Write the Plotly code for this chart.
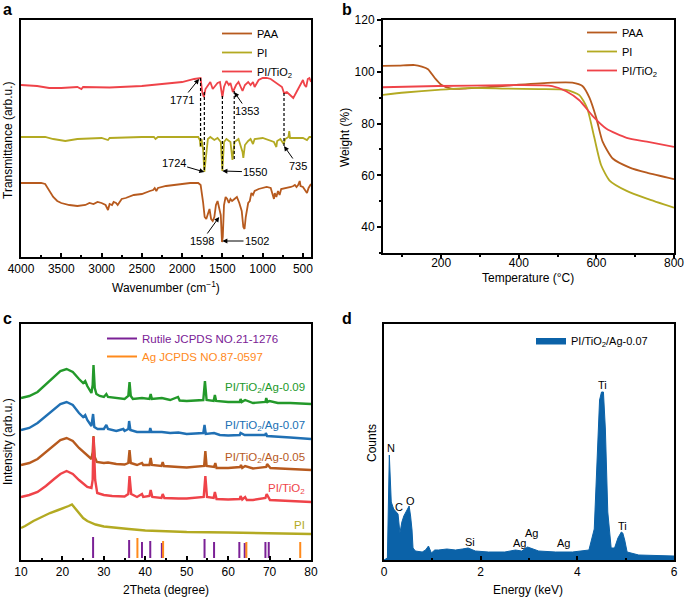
import plotly.graph_objects as go

FONT = "Liberation Sans, Arial, sans-serif"

# ---------------- Panel a: FTIR ----------------
paa_wn = [4000, 3750, 3700, 3650, 3600, 3550, 3500, 3400, 3300, 3200, 3150, 3100, 3050, 3000, 2950, 2920, 2900, 2870, 2850, 2820, 2800, 2750, 2700, 2600, 2500, 2400, 2360, 2340, 2320, 2300, 2200, 2100, 2000, 1900, 1800, 1770, 1740, 1720, 1700, 1680, 1660, 1640, 1620, 1600, 1580, 1560, 1540, 1520, 1505, 1495, 1480, 1460, 1440, 1420, 1400, 1380, 1350, 1320, 1290, 1260, 1240, 1225, 1210, 1180, 1160, 1140, 1120, 1100, 1050, 1000, 950, 900, 870, 860, 850, 830, 810, 790, 770, 700, 650, 620, 600, 580, 560, 540, 530, 500, 470, 450, 430, 400]
paa_t = [74, 74, 73, 66, 60, 56, 54, 52, 51, 52, 54, 53, 55, 54, 52, 47, 53, 52, 55, 54, 52, 58, 59, 62, 63, 66, 67, 69, 66, 69, 71, 72, 73, 74, 74, 72, 55, 40, 38, 44, 48, 38, 36, 40, 52, 56, 50, 42, 15, 20, 52, 60, 58, 54, 58, 56, 58, 60, 54, 46, 30, 28, 40, 54, 56, 64, 62, 66, 68, 69, 70, 69, 62, 58, 64, 60, 66, 62, 68, 69, 70, 71, 72, 70, 72, 76, 71, 70, 66, 64, 69, 73]

pi_wn = [4000, 3700, 3600, 3450, 3300, 3000, 2920, 2900, 2500, 2350, 2330, 2300, 2000, 1800, 1780, 1771, 1760, 1740, 1724, 1700, 1680, 1650, 1600, 1560, 1520, 1500, 1480, 1450, 1420, 1400, 1375, 1350, 1300, 1280, 1250, 1240, 1220, 1180, 1150, 1120, 1100, 1000, 900, 860, 830, 820, 780, 740, 720, 680, 670, 660, 600, 500, 450, 420, 400]
pi_t = [120, 120, 118, 116, 118, 119, 117, 119, 120, 120, 118, 120, 120, 120, 117, 110, 118, 108, 85, 105, 118, 120, 117, 119, 115, 86, 115, 118, 116, 115, 97, 115, 118, 112, 105, 99, 112, 116, 118, 113, 118, 119, 116, 115, 110, 116, 118, 113, 118, 120, 126, 119, 119, 119, 117, 120, 120]

pit_wn = [4000, 3800, 3650, 3500, 3300, 3250, 3230, 3000, 2900, 2500, 2000, 1850, 1771, 1750, 1730, 1710, 1680, 1650, 1620, 1600, 1560, 1530, 1510, 1500, 1480, 1450, 1420, 1400, 1370, 1353, 1330, 1300, 1270, 1250, 1220, 1180, 1150, 1120, 1100, 1050, 1000, 950, 900, 850, 800, 760, 735, 700, 660, 620, 580, 550, 500, 480, 460, 440, 420, 400]
pit_t = [172, 171, 169, 169, 170, 168, 170, 170, 169.5, 171, 175, 178, 179, 165, 160, 168, 172, 175, 168, 170, 174, 175, 162, 160, 170, 176, 172, 174, 165, 168, 172, 175, 170, 166, 172, 175, 172, 175, 170, 177, 179, 179, 178, 175, 172, 170, 164, 165, 162, 159, 165, 170, 177, 172, 170, 178, 179, 175]

dash_wn = [1771, 1724, 1500, 1353, 735]
dash_top = [179, 165, 161, 166, 164]
dash_bot = [109, 85, 86, 97, 111]

# annotation: label, arrow tip (wn, t), text centre (wn, t)
ftir_labels = ["1771", "1353", "1724", "1550", "735", "1598", "1502"]
ftir_tip_wn = [1790, 1353, 1724, 1500, 735, 1540, 1500]
ftir_tip_t = [178, 165, 85, 86, 111, 40, 16]
ftir_txt_wn = [2000, 1190, 2105, 1090, 560, 1754, 1070]
ftir_txt_t = [157, 146, 94, 85, 91, 16, 16]

# ---------------- Panel b: TGA ----------------
paa_T = [49, 90, 132, 150, 166, 184, 200, 226, 262, 314, 400, 486, 538, 564, 582, 600, 616, 642, 686, 730, 800]
paa_W = [102.3, 102.4, 102.6, 102.0, 101.0, 97.5, 95.0, 93.5, 93.5, 94.0, 95.0, 95.8, 95.8, 94.5, 90.0, 82.0, 73.0, 66.5, 63.0, 61.0, 58.5]
pi_T = [44, 106, 192, 278, 366, 452, 522, 556, 576, 594, 612, 634, 678, 730, 800]
pi_W = [91.0, 92.0, 93.0, 93.8, 93.5, 93.3, 93.0, 91.0, 86.0, 75.0, 64.0, 58.0, 54.0, 51.0, 47.5]
pit_T = [44, 192, 366, 486, 522, 556, 590, 626, 678, 730, 800]
pit_W = [94.0, 94.5, 94.8, 94.5, 92.5, 89.0, 83.0, 78.0, 74.5, 73.0, 71.0]

# ---------------- Panel c: XRD ----------------
g09_x = [10, 12, 14, 16, 18, 19.5, 21, 22.5, 24, 25, 25.5, 26, 27, 27.3, 27.5, 27.8, 28.2, 29, 30, 30.6, 31, 33, 35, 35.9, 36.2, 36.5, 37, 39.2, 41.0, 41.3, 41.6, 44, 46, 47.9, 48.3, 50, 54.0, 54.4, 54.8, 56.5, 56.8, 57.1, 60, 62.8, 63.0, 63.3, 64.1, 66, 69.0, 69.2, 69.5, 70, 72, 75, 78, 80]
g09_y = [162, 164, 168, 176, 184, 189, 191, 188, 181, 177, 179, 174, 167, 175, 195, 172, 166, 164, 163, 166, 163, 162, 161, 164, 178, 164, 161, 162, 161, 166, 161, 162, 160, 163, 159.5, 159, 160, 179, 160, 159, 165, 159, 158, 158, 161, 158, 160, 157, 158, 162, 158, 159, 157, 157, 156, 156]
b07_x = [10, 12, 14, 16, 18, 19.5, 21, 22.5, 24, 25, 25.5, 26, 27, 27.4, 27.7, 28.5, 30, 30.6, 31, 33, 34.7, 35, 35.9, 36.1, 36.4, 38, 41, 41.2, 41.5, 44, 46, 48, 50, 54.0, 54.3, 54.6, 56.6, 58, 60, 62.8, 63, 64, 69, 69.1, 69.4, 72, 75, 80]
b07_y = [130, 132, 137, 144, 151, 156, 158, 155, 147, 143, 145, 140, 134, 146, 133, 131, 131, 135, 131, 129, 131, 129, 131, 139, 130, 128, 128, 132, 128, 128, 127, 127.5, 126, 127, 135, 126, 127, 125, 124.5, 125, 127, 125, 125, 127, 124, 123, 122.5, 121]
o05_x = [10, 12, 14, 16, 18, 19.5, 21, 22.5, 24, 25, 26, 27, 27.3, 27.5, 27.8, 28.3, 30, 31, 33, 35, 35.9, 36.2, 36.5, 38, 39.2, 39.5, 41.0, 41.3, 41.6, 43.9, 44.2, 44.5, 48, 50, 54.2, 54.5, 54.8, 56.6, 56.9, 57.2, 60, 62.9, 63.1, 63.4, 64.1, 66, 69.2, 69.4, 69.8, 70.2, 75, 80]
o05_y = [95, 97, 101, 108, 115, 120, 122, 119, 112, 108, 104, 101, 108, 124, 103, 98, 97, 97.5, 96, 95.5, 97, 110, 97, 95, 97, 95, 95, 102, 95, 94, 98, 94, 93, 92.5, 94, 109, 94, 93, 97, 92, 92, 93, 95, 92, 94, 91.5, 93, 96, 94, 92, 91, 90]
r_x = [10, 12, 14, 16, 18, 19.5, 21, 22.5, 24, 25, 26, 27, 27.3, 27.5, 27.9, 28.4, 30, 32, 35, 35.9, 36.2, 36.6, 38, 39.2, 39.5, 41.0, 41.3, 41.7, 43.9, 44.2, 44.6, 48, 50, 54.1, 54.5, 54.9, 56.5, 56.8, 57.2, 60, 62.8, 63.0, 63.4, 64.1, 64.5, 66, 69.0, 69.3, 69.7, 70.1, 75, 80]
r_y = [63, 65, 68, 74, 81, 86, 89, 86, 80, 76, 73, 72, 80, 123, 80, 67, 65, 64, 63.5, 66, 84, 66, 63, 66, 63, 64, 70, 63, 62, 66, 62, 61.5, 61.5, 63, 84, 63, 62, 68, 61, 60.5, 61, 64, 60.5, 63, 60, 60, 62, 66, 63, 60, 59, 58]
pi_x = [10, 11, 13, 15, 17, 19, 20.5, 21.5, 22.3, 23, 24, 25, 26, 28, 30, 33, 36, 40, 45, 50, 60, 70, 80]
pi_y = [32, 34, 39, 43, 47, 50, 52, 54, 55.5, 52, 46, 42, 39, 35.5, 33.5, 32, 31, 29.5, 28.5, 28, 27.5, 27, 26]

rutile_pos = [27.4, 36.1, 39.2, 41.2, 44.0, 54.3, 56.6, 62.7, 64.0, 69.0, 69.8]
rutile_h = [21, 18, 16, 17, 15, 19, 16, 16, 15, 16, 16]
ag_pos = [38.1, 44.3, 64.4, 77.4]
ag_h = [20, 17, 16, 16]
stick_base = 2

xrd_labels = ["PI/TiO<sub>2</sub>/Ag-0.09", "PI/TiO<sub>2</sub>/Ag-0.07", "PI/TiO<sub>2</sub>/Ag-0.05", "PI/TiO<sub>2</sub>", "PI"]
xrd_label_y = [172, 134, 102, 71, 35]

# ---------------- Panel d: EDS ----------------
eds_e = [0.0, 0.07, 0.11, 0.13, 0.15, 0.2, 0.26, 0.29, 0.33, 0.37, 0.41, 0.47, 0.52, 0.55, 0.58, 0.6, 0.65, 0.79, 0.86, 0.92, 0.98, 1.05, 1.13, 1.3, 1.48, 1.62, 1.74, 1.89, 2.16, 2.5, 2.72, 2.85, 2.97, 3.2, 3.55, 3.9, 4.24, 4.35, 4.41, 4.46, 4.5, 4.54, 4.58, 4.63, 4.7, 4.77, 4.84, 4.91, 4.94, 4.98, 5.03, 5.27, 6.0]
eds_c = [0, 2, 105, 80, 58, 51, 48, 46, 27, 38, 44, 50, 54, 44, 30, 12, 9, 8, 10, 14, 7, 10, 10, 11, 10, 11, 12, 9, 8, 8, 10, 9, 13, 9, 8, 8, 10, 31, 98, 160, 168, 168, 131, 48, 12, 12, 22, 28, 27, 20, 8, 5, 4]
eds_labels = ["N", "C", "O", "Si", "Ag", "Ag", "Ag", "Ti", "Ti"]
eds_label_e = [0.14, 0.30, 0.54, 1.78, 2.81, 3.05, 3.72, 4.52, 4.94]
eds_label_c = [112, 53, 59, 18, 17, 27, 17, 175, 34]

C_PAA = "#B75A1E"
C_PI = "#B3AA22"
C_PIT = "#EF4349"
C_G = "#23992A"
C_B = "#2070B4"
C_PUR = "#7B2196"
C_ORG = "#FF8A1C"
C_EDS = "#0B62A8"

fig = go.Figure()

# panel a traces
fig.add_trace(go.Scatter(x=paa_wn, y=paa_t, mode="lines", name="PAA", line=dict(color=C_PAA, width=1.8), xaxis="x", yaxis="y", legend="legend"))
fig.add_trace(go.Scatter(x=pi_wn, y=pi_t, mode="lines", name="PI", line=dict(color=C_PI, width=1.8), xaxis="x", yaxis="y", legend="legend"))
fig.add_trace(go.Scatter(x=pit_wn, y=pit_t, mode="lines", name="PI/TiO<sub>2</sub>", line=dict(color=C_PIT, width=1.8), xaxis="x", yaxis="y", legend="legend"))

# panel b traces
fig.add_trace(go.Scatter(x=paa_T, y=paa_W, mode="lines", name="PAA", line=dict(color=C_PAA, width=1.8, shape="spline", smoothing=0.6), xaxis="x2", yaxis="y2", legend="legend2"))
fig.add_trace(go.Scatter(x=pi_T, y=pi_W, mode="lines", name="PI", line=dict(color=C_PI, width=1.8, shape="spline", smoothing=0.6), xaxis="x2", yaxis="y2", legend="legend2"))
fig.add_trace(go.Scatter(x=pit_T, y=pit_W, mode="lines", name="PI/TiO<sub>2</sub>", line=dict(color=C_PIT, width=1.8, shape="spline", smoothing=0.6), xaxis="x2", yaxis="y2", legend="legend2"))

# panel c traces
for xs, ys, col in [(g09_x, g09_y, C_G), (b07_x, b07_y, C_B), (o05_x, o05_y, C_PAA), (r_x, r_y, C_PIT), (pi_x, pi_y, C_PI)]:
    fig.add_trace(go.Scatter(x=xs, y=ys, mode="lines", showlegend=False, line=dict(color=col, width=2.4), xaxis="x3", yaxis="y3"))

def sticks(pos, h, base):
    xs, ys = [], []
    for p, hh in zip(pos, h):
        xs += [p, p, None]
        ys += [base, base + hh, None]
    return xs, ys

sx, sy = sticks(rutile_pos, rutile_h, stick_base)
fig.add_trace(go.Scatter(x=sx, y=sy, mode="lines", name="Rutile JCPDS NO.21-1276", line=dict(color=C_PUR, width=2), xaxis="x3", yaxis="y3", legend="legend3"))
sx, sy = sticks(ag_pos, ag_h, stick_base)
fig.add_trace(go.Scatter(x=sx, y=sy, mode="lines", name="Ag JCPDS NO.87-0597", line=dict(color=C_ORG, width=2), xaxis="x3", yaxis="y3", legend="legend5"))

# panel d trace
fig.add_trace(go.Scatter(x=eds_e, y=eds_c, mode="lines", name="PI/TiO<sub>2</sub>/Ag-0.07", fill="tozeroy", fillcolor=C_EDS, line=dict(color=C_EDS, width=1), xaxis="x4", yaxis="y4", legend="legend4"))

W, H = 685, 602
def px_x(p):
    return p / W
def px_y(p):
    return 1 - p / H

ax_common = dict(showline=True, linewidth=2, linecolor="black", mirror=True, showgrid=False, zeroline=False, automargin=False,
                 tickfont=dict(family=FONT, size=12, color="black"), tickcolor="black", tickwidth=1.5)

annotations = []
shapes = []

# panel a dashed lines
for w, t0, t1 in zip(dash_wn, dash_top, dash_bot):
    shapes.append(dict(type="line", xref="x", yref="y", x0=w, x1=w, y0=t0, y1=t1, line=dict(color="black", width=1.2, dash="3px,2px")))

for lab, tx, ty, ax_, ay_ in zip(ftir_labels, ftir_tip_wn, ftir_tip_t, ftir_txt_wn, ftir_txt_t):
    annotations.append(dict(x=tx, y=ty, xref="x", yref="y", ax=ax_, ay=ay_, axref="x", ayref="y", text=lab, showarrow=True,
                            arrowhead=2, arrowsize=1, arrowwidth=1, arrowcolor="black", standoff=0,
                            font=dict(family=FONT, size=11, color="black")))

# panel c labels
xrd_cols = [C_G, C_B, C_PAA, C_PIT, C_PI]
for lab, yy, col in zip(xrd_labels, xrd_label_y, xrd_cols):
    annotations.append(dict(x=79, y=yy, xref="x3", yref="y3", text=lab, showarrow=False, xanchor="right", yanchor="middle",
                            font=dict(family=FONT, size=11.5, color=col)))

# panel d labels
for lab, e, c in zip(eds_labels, eds_label_e, eds_label_c):
    annotations.append(dict(x=e, y=c, xref="x4", yref="y4", text=lab, showarrow=False, xanchor="center", yanchor="middle",
                            font=dict(family=FONT, size=11, color="black")))

# axis titles and panel letters
def title(txt, x, y, rot=0, size=12):
    annotations.append(dict(x=px_x(x), y=px_y(y), xref="paper", yref="paper", text=txt, showarrow=False, textangle=rot,
                            xanchor="center", yanchor="middle", font=dict(family=FONT, size=size, color="black")))

title("Wavenumber (cm<sup>\u22121</sup>)", 166, 287)
title("Transmittance (arb.u.)", 8, 140, -90)
title("Temperature (\u00b0C)", 528, 278)
title("Weight (%)", 345, 138, -90)
title("2Theta (degree)", 166, 590)
title("Intensity (arb.u.)", 8, 442, -90)
title("Energy (keV)", 528, 590)
title("Counts", 372, 443, -90)
for L, x, y in [("a", 7, 10), ("b", 347, 10), ("c", 7, 318), ("d", 347, 318)]:
    annotations.append(dict(x=px_x(x), y=px_y(y), xref="paper", yref="paper", text="<b>%s</b>" % L, showarrow=False,
                            xanchor="center", yanchor="middle", font=dict(family=FONT, size=16, color="black")))

leg_common = dict(bgcolor="rgba(0,0,0,0)", borderwidth=0, xanchor="left", yanchor="top", tracegroupgap=0,
                  itemwidth=30)

fig.update_layout(
    width=W, height=H, margin=dict(l=0, r=0, t=0, b=0, pad=0, autoexpand=False), paper_bgcolor="white", plot_bgcolor="white",
    hovermode=False, shapes=shapes, annotations=annotations,
    xaxis=dict(ax_common, domain=[px_x(21), px_x(311)], range=[4000, 400], anchor="y", ticks="inside", ticklen=4,
               tick0=500, dtick=500, minor=dict(ticks="inside", ticklen=2.5, dtick=250, tick0=250, tickcolor="black")),
    yaxis=dict(ax_common, domain=[px_y(257), px_y(20)], range=[0, 237], anchor="x", showticklabels=False, ticks=""),
    xaxis2=dict(ax_common, domain=[px_x(383), px_x(674)], range=[50, 800], anchor="y2", ticks="outside", ticklen=3,
                ticklabelstandoff=-5,
                tick0=0, dtick=200, minor=dict(ticks="outside", ticklen=2, dtick=100, tickcolor="black")),
    yaxis2=dict(ax_common, domain=[px_y(253), px_y(20)], range=[30, 120], anchor="x2", ticks="outside", ticklen=4,
                tick0=0, dtick=20, minor=dict(ticks="outside", ticklen=2.5, dtick=10, tickcolor="black")),
    xaxis3=dict(ax_common, domain=[px_x(21), px_x(311)], range=[10, 80], anchor="y3", ticks="inside", ticklen=4,
                tick0=0, dtick=10, minor=dict(ticks="inside", ticklen=2.5, dtick=5, tickcolor="black")),
    yaxis3=dict(ax_common, domain=[px_y(560), px_y(324)], range=[0, 236], anchor="x3", showticklabels=False, ticks=""),
    xaxis4=dict(ax_common, domain=[px_x(384), px_x(674)], range=[0, 6], anchor="y4", ticks="inside", ticklen=4,
                tick0=0, dtick=2, minor=dict(ticks="inside", ticklen=2.5, dtick=1, tickcolor="black")),
    yaxis4=dict(ax_common, domain=[px_y(560), px_y(324)], range=[0, 236], anchor="x4", showticklabels=False, ticks=""),
    legend=dict(leg_common, x=px_x(217), y=px_y(19), font=dict(family=FONT, size=11, color="black")),
    legend2=dict(leg_common, x=px_x(582), y=px_y(18), font=dict(family=FONT, size=11, color="black")),
    legend3=dict(leg_common, x=px_x(102), y=px_y(324), font=dict(family=FONT, size=11.5, color=C_PUR)),
    legend5=dict(leg_common, x=px_x(102), y=px_y(342), font=dict(family=FONT, size=11.5, color=C_ORG)),
    legend4=dict(leg_common, x=px_x(531), y=px_y(326), font=dict(family=FONT, size=11, color="black")),
)

fig.write_html("out.html", config={"displayModeBar": False}, post_script="document.body.style.margin='0px';")
